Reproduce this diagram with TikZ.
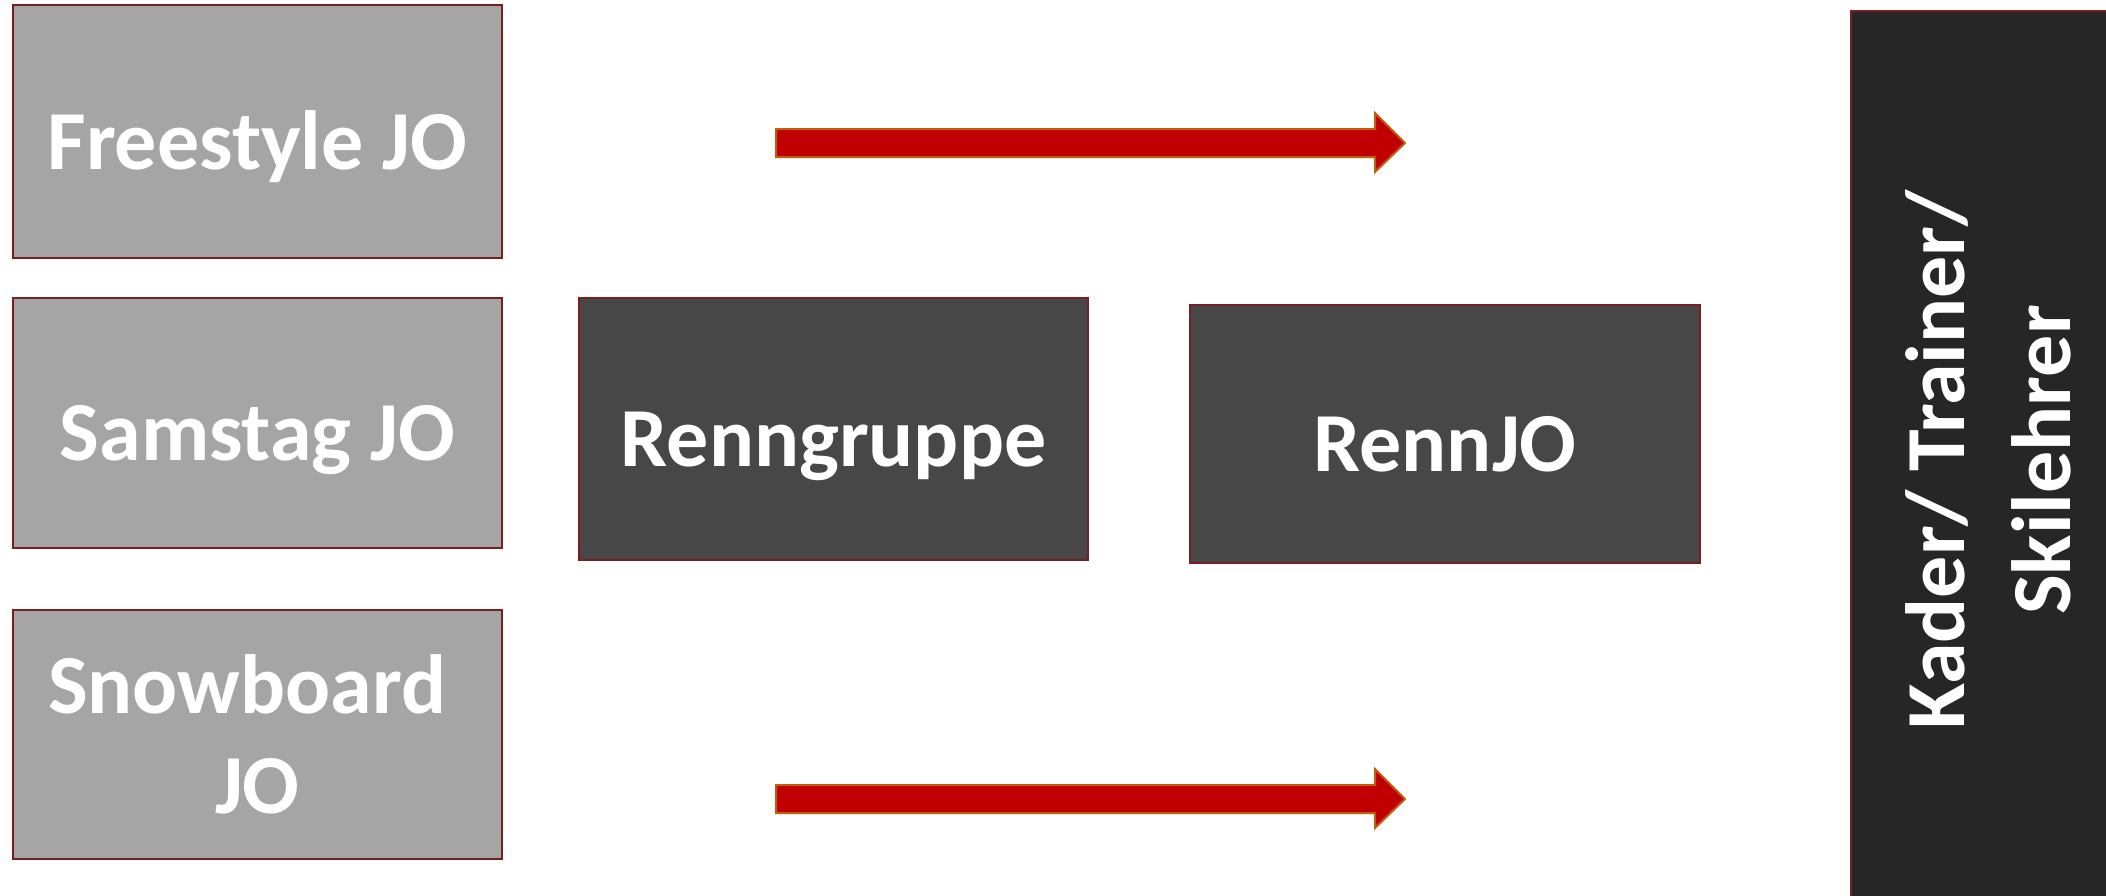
\documentclass[tikz,border=0pt]{standalone}
\usepackage{fontspec}
\setmainfont{Carlito}
\definecolor{lightbox}{HTML}{A5A5A5}
\definecolor{darkbox}{HTML}{474747}
\definecolor{blackbox}{HTML}{262626}
\definecolor{rim}{HTML}{7A1E26}
\definecolor{arrowfill}{HTML}{C00000}
\definecolor{arrowrim}{HTML}{BF5F0C}
\begin{document}
\begin{tikzpicture}[x=0.5pt,y=-0.5pt,
  box/.style={draw=rim, line width=1.3pt, inner sep=0pt,
    text=white, font=\fontsize{42}{50}\selectfont\bfseries},
  oneline/.style={text height=46pt, text depth=8.4pt},
  twoline/.style={align=center},
  fat/.style={fill=arrowfill, draw=arrowrim, line width=1pt, line join=miter}]
\useasboundingbox (0,0) rectangle (2106,895);
\clip (0,0) rectangle (2106,895);
% left column
\node[box, oneline, fill=lightbox, minimum width=244.5pt, minimum height=126.5pt] (free) at (257.5,131.5) {Freestyle JO};
\node[box, oneline, fill=lightbox, minimum width=244.5pt, minimum height=125pt] (sams) at (257.5,423) {Samstag JO};
\node[box, twoline, fill=lightbox, minimum width=244.5pt, minimum height=124.5pt] (snow) at (257.5,734.5) {Snowboard\kern0.25em\\JO};
% middle boxes
\node[box, oneline, fill=darkbox, minimum width=254.5pt, minimum height=131pt] (renng) at (833.5,429) {Renngruppe};
\node[box, oneline, fill=darkbox, minimum width=255pt, minimum height=129pt] (rennjo) at (1445,434) {RennJO};
% right column
\node[box, fill=blackbox, minimum width=137pt, minimum height=449pt] (kader) at (1988,460) {};
\node[text=white, font=\fontsize{42}{53}\selectfont\bfseries, align=center, rotate=90] (kadertext) at (kader.center) {Kader/ Trainer/\\Skilehrer};
% block arrows
\draw[fat] (776,129) -- (1375,129) -- (1375,113) -- (1405,143) -- (1375,172) -- (1375,157) -- (776,157) -- cycle;
\draw[fat] (776,785) -- (1375,785) -- (1375,769) -- (1405,799) -- (1375,828) -- (1375,813) -- (776,813) -- cycle;
\end{tikzpicture}
\end{document}
